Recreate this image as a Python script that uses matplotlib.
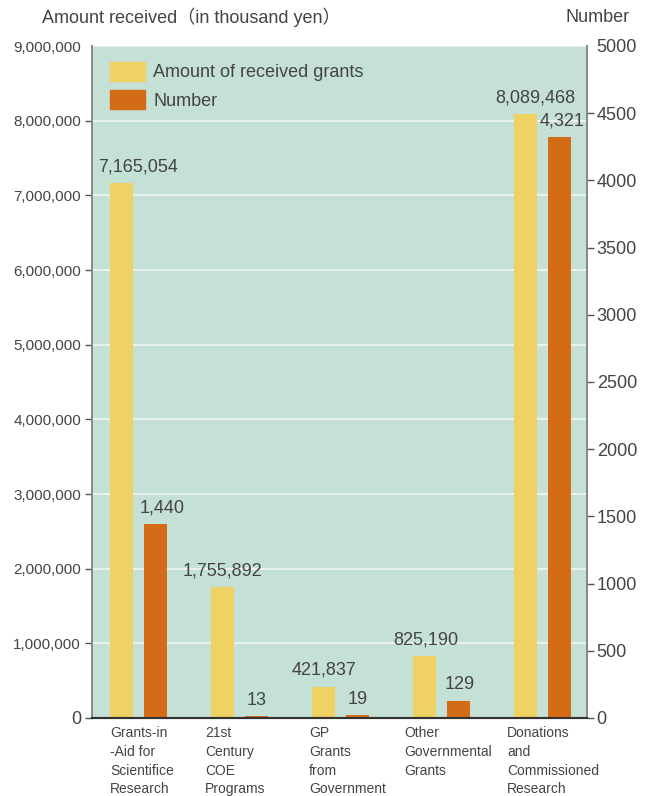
import numpy as np
from matplotlib import pyplot as plt
from matplotlib.patches import Patch

plt.rcParams['font.family'] = ['Liberation Sans', 'DejaVu Sans']

categories = ["Grants-in\n-Aid for\nScientifice\nResearch",
              "21st\nCentury\nCOE\nPrograms",
              "GP\nGrants\nfrom\nGovernment",
              "Other\nGovernmental\nGrants",
              "Donations\nand\nCommissioned\nResearch"]
amounts = [7165054, 1755892, 421837, 825190, 8089468]
numbers = [1440, 13, 19, 129, 4321]
left_ticks = [0, 1000000, 2000000, 3000000, 4000000, 5000000, 6000000, 7000000, 8000000, 9000000]
right_ticks = [0, 500, 1000, 1500, 2000, 2500, 3000, 3500, 4000, 4500, 5000]

YELLOW = "#f0d264"
ORANGE = "#d46b17"
BG = "#c5e0d5"
TXT = "#444444"

fig = plt.figure(figsize=(6.56, 7.96), dpi=100)
ax = fig.add_axes([92/656, 78/796, 495/656, 672/796])
ax2 = ax.twinx()

x = np.arange(len(categories))
off = 0.168
w = 0.228

ax.set_facecolor(BG)
ax.set_axisbelow(True)
ax.bar(x - off, amounts, w, color=YELLOW, zorder=2)
ax2.bar(x + off, numbers, w, color=ORANGE, zorder=2)

ax.set_xlim(-0.46, 4.44)
ax.set_ylim(0, 9000000)
ax2.set_ylim(0, 5000)

ax.set_yticks(left_ticks, [f"{v:,}" for v in left_ticks])
ax2.set_yticks(right_ticks, [str(v) for v in right_ticks])
ax.yaxis.grid(True, color="#e8f3ee", lw=1.5)
ax.get_yticklines()[-2].set_visible(False)
ax2.get_yticklines()[-1].set_visible(False)

# category labels sit a little left of the yellow bar in the original
lab_x = [0, -0.06, -0.03, -0.09, -0.07]
for i, lab in enumerate(categories):
    ax.annotate(lab, (x[i] - off - w / 2 + lab_x[i], 0), xytext=(0, -6),
                textcoords="offset points", ha="left", va="top",
                fontsize=10, color=TXT, linespacing=1.42, annotation_clip=False)
ax.set_xticks([])
ax.tick_params(axis="y", length=5, width=1, color="#555555", labelsize=11, labelcolor=TXT, pad=3)
ax2.tick_params(axis="y", length=5, width=1, color="#555555", labelsize=13, labelcolor=TXT, pad=2)
ax.yaxis.get_ticklabels()[0].set_fontsize(13)

for a in (ax, ax2):
    a.spines["top"].set_visible(False)
    a.spines["left"].set_color("#888888")
    a.spines["right"].set_color("#888888")
    a.spines["left"].set_linewidth(1.3)
    a.spines["right"].set_linewidth(1.3)
    a.spines["bottom"].set_color("#333333")
    a.spines["bottom"].set_linewidth(1.5)

amt_dx = [12, 0, 0, 1, 7]
num_dx = [5, 0, 0, 1, 2]
for i in range(len(categories)):
    ax.annotate(f"{amounts[i]:,}", (x[i] - off, amounts[i]), xytext=(amt_dx[i], 5.5),
                textcoords="offset points", ha="center", va="bottom",
                fontsize=13, color=TXT)
    ax2.annotate(f"{numbers[i]:,}", (x[i] + off, numbers[i]), xytext=(num_dx[i], 5.5),
                 textcoords="offset points", ha="center", va="bottom",
                 fontsize=13, color=TXT)

handles = [Patch(color=YELLOW), Patch(color=ORANGE)]
leg = ax2.legend(handles, ["Amount of received grants", "Number"], loc="upper left",
                 bbox_to_anchor=(18/495, 1 - 16/672), frameon=False, fontsize=13,
                 handlelength=1.95, handleheight=1.2, handletextpad=0.45,
                 labelspacing=0.5, borderpad=0, borderaxespad=0)
for t in leg.get_texts():
    t.set_color(TXT)

fig.text(42/656, 1 - 17/796, "Amount received（in thousand yen）", ha="left", va="center",
         fontsize=13, color=TXT, family=["Liberation Sans", "Noto Sans CJK JP", "DejaVu Sans"])
fig.text(630/656, 1 - 17/796, "Number", ha="right", va="center", fontsize=13, color=TXT)

plt.savefig("out.png", dpi=100)
